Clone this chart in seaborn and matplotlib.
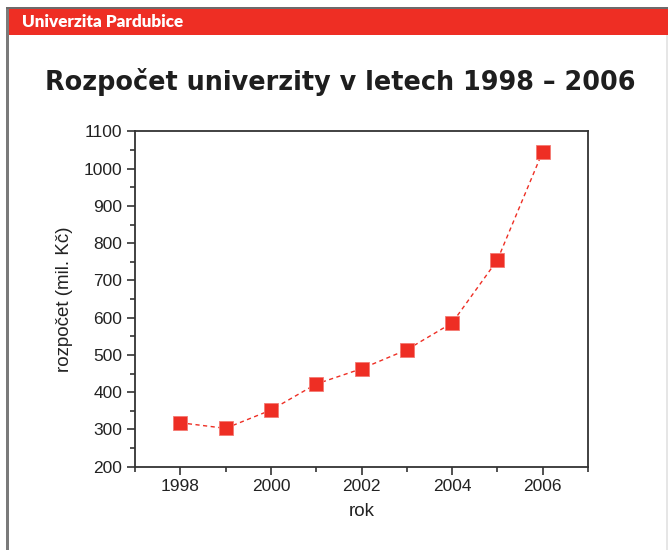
import matplotlib
matplotlib.use("Agg")
import matplotlib.pyplot as plt
import seaborn as sns
import pandas as pd
from matplotlib.patches import Rectangle
from matplotlib.ticker import MultipleLocator

years = [1998, 1999, 2000, 2001, 2002, 2003, 2004, 2005, 2006]
budget = [318, 303, 352, 422, 463, 514, 586, 755, 1046]
x_ticks = [1998, 2000, 2002, 2004, 2006]
y_ticks = [200, 300, 400, 500, 600, 700, 800, 900, 1000, 1100]

header_text = "Univerzita Pardubice"
title_text = "Rozpočet univerzity v letech 1998 – 2006"
x_label = "rok"
y_label = "rozpočet (mil. Kč)"

RED = "#EE2E24"
W, H = 668, 550

sns.set_style("white")
plt.rcParams['font.family'] = ['Liberation Sans', 'DejaVu Sans']

fig = plt.figure(figsize=(W / 100, H / 100), dpi=100)
fig.patch.set_facecolor("white")

# frame decorations
fig.add_artist(Rectangle((6 / W, 0), 3 / W, (H - 7) / H, transform=fig.transFigure,
                         facecolor="#7a7a7a", edgecolor="none"))
fig.add_artist(Rectangle((6 / W, (H - 9) / H), 1 - 6 / W, 2.5 / H, transform=fig.transFigure,
                         facecolor="#6e6a6a", edgecolor="none"))
fig.add_artist(Rectangle((9 / W, (H - 35) / H), 1 - 9 / W, 26 / H, transform=fig.transFigure,
                         facecolor=RED, edgecolor="none"))
fig.add_artist(Rectangle((666 / W, 0), 2 / W, (H - 35) / H, transform=fig.transFigure,
                         facecolor="#e6e6e6", edgecolor="none"))
fig.text(22 / W, 1 - 22 / H, header_text, color="white", fontsize=12.3, fontweight="heavy",
         family=["Lato", "DejaVu Sans"], va="center", ha="left")
fig.text(340 / W, 1 - 82 / H, title_text, color="#1e1e1e", fontsize=18.4, fontweight="bold",
         family=["DejaVu Sans"], va="center", ha="center")

left, right, top, bottom = 135, 588, 131.5, 466.7
ax = fig.add_axes([left / W, (H - bottom) / H, (right - left) / W, (bottom - top) / H])

df = pd.DataFrame({"rok": years, "rozpocet": budget})
sns.lineplot(data=df, x="rok", y="rozpocet", ax=ax, color=RED, linestyle=(0, (3, 2.5)),
             linewidth=1.0, marker="s", markersize=9.5, markerfacecolor=RED,
             markeredgecolor="#f47a72", markeredgewidth=0.6)

ax.set_xlim(1997, 2007)
ax.set_ylim(200, 1100)
ax.set_xticks(x_ticks)
ax.set_yticks(y_ticks)
ax.xaxis.set_minor_locator(MultipleLocator(1))
ax.yaxis.set_minor_locator(MultipleLocator(50))
ax.tick_params(axis="both", which="major", direction="out", length=6, width=1.2,
               color="#333333", labelsize=12.5, labelcolor="#222222", pad=3)
ax.tick_params(axis="both", which="minor", direction="out", length=3.5, width=1.2,
               color="#333333")
ax.tick_params(top=False, right=False, which="both")
ax.tick_params(axis="x", which="both", bottom=True)
ax.tick_params(axis="y", which="both", left=True)
for s in ax.spines.values():
    s.set_visible(True)
    s.set_color("#333333")
    s.set_linewidth(1.3)
ax.set_xlabel(x_label, fontsize=13.5, color="#222222", labelpad=6)
ax.set_ylabel(y_label, fontsize=13.5, color="#222222", labelpad=8)
ax.grid(False)

fig.savefig("out.png", dpi=100, facecolor="white")
